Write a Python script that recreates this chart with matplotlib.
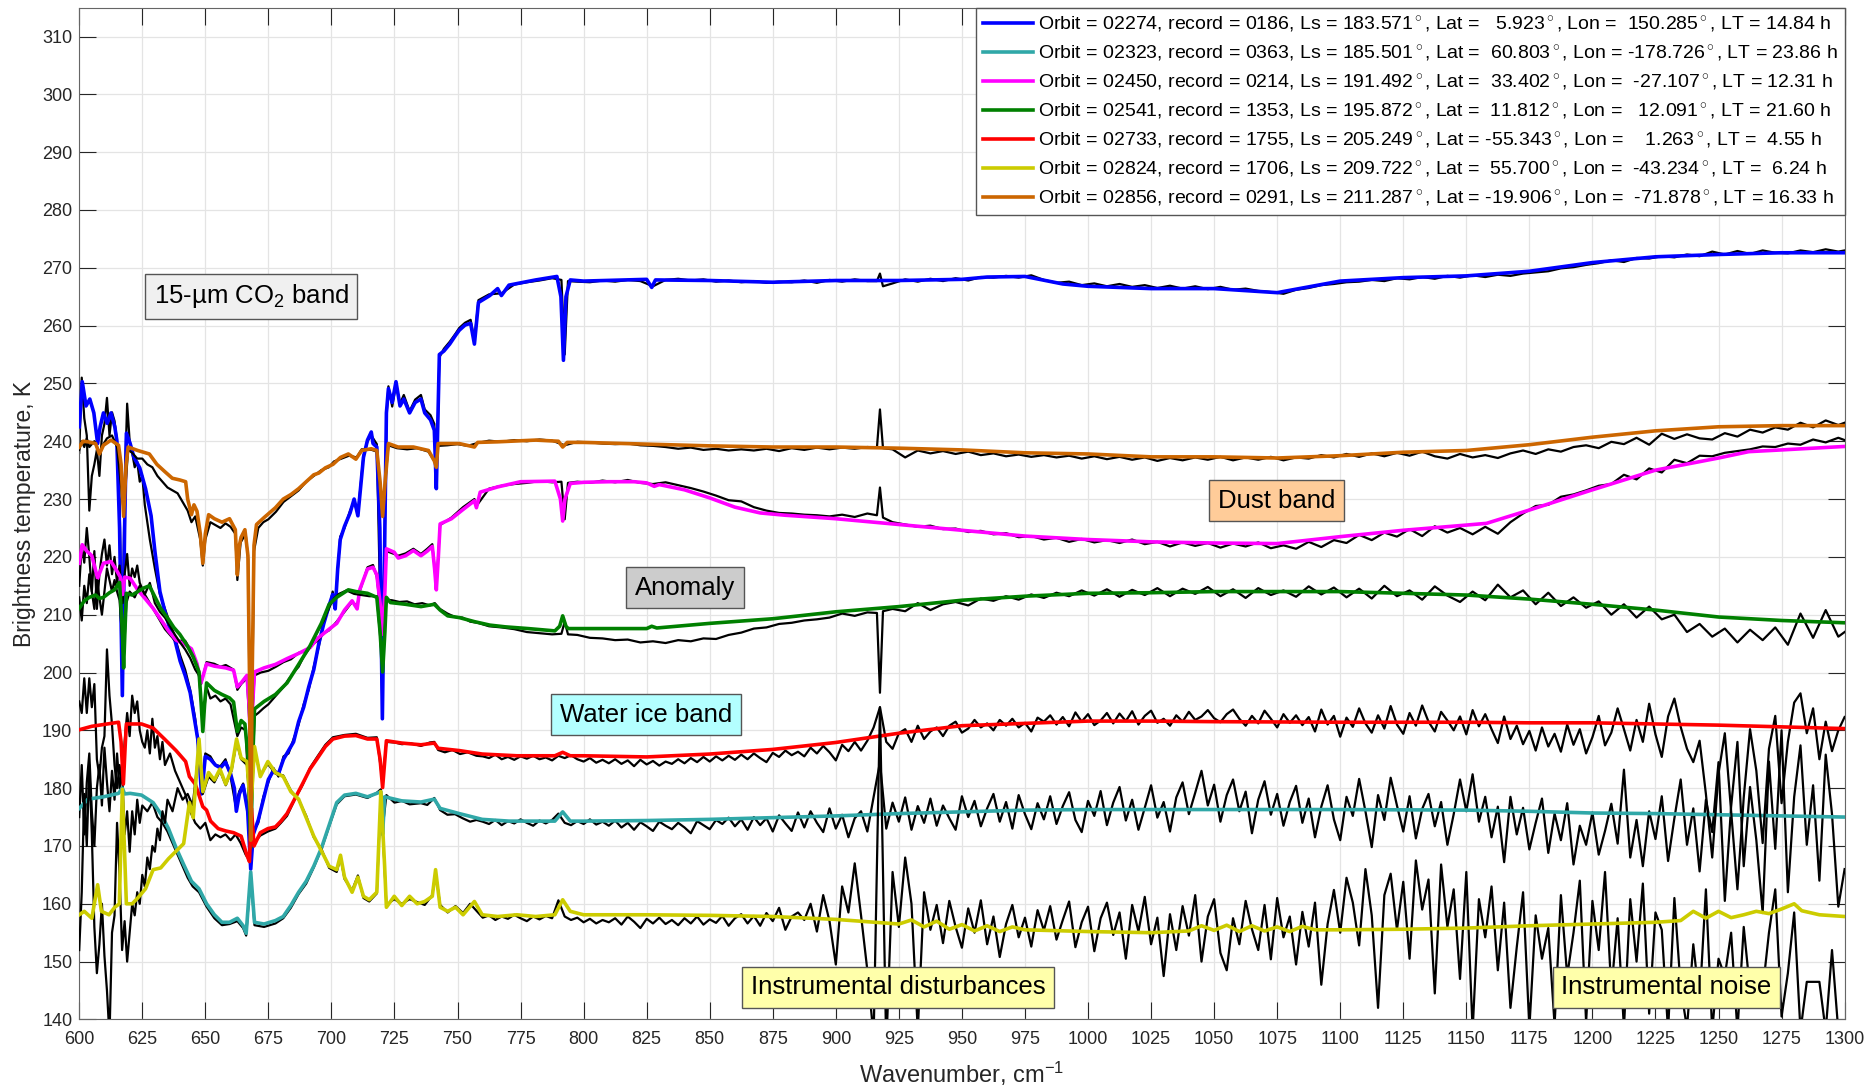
import numpy as np
import matplotlib
matplotlib.use("Agg")
import matplotlib.pyplot as plt

plt.rcParams['font.family'] = ['Liberation Sans', 'DejaVu Sans']
plt.rcParams['mathtext.fontset'] = 'custom'
plt.rcParams['mathtext.rm'] = 'Liberation Sans'
plt.rcParams['mathtext.it'] = 'Liberation Sans:italic'

# ---- observation metadata (legend) ----
orbits = ["02274", "02323", "02450", "02541", "02733", "02824", "02856"]
records = ["0186", "0363", "0214", "1353", "1755", "1706", "0291"]
ls_deg = [183.571, 185.501, 191.492, 195.872, 205.249, 209.722, 211.287]
lat_deg = [5.923, 60.803, 33.402, 11.812, -55.343, 55.700, -19.906]
lon_deg = [150.285, -178.726, -27.107, 12.091, 1.263, -43.234, -71.878]
local_time = [14.84, 23.86, 12.31, 21.60, 4.55, 6.24, 16.33]
colors = ["#0000ff", "#30a8a8", "#ff00ff", "#008000", "#ff0000", "#cccc00", "#cc6600"]

# regular wavenumber grids for the measured spectra beyond 760 cm-1
wn_fine = np.arange(760, 1300.1, 2.5)
wn_coarse = np.append(np.arange(762.5, 1300, 5), 1300)

# ---- 02274 ----
fit_02274 = [
    (600, 242.5), (601.2, 250.3), (602.7, 246.1), (604.2, 247.3), (605.8, 244.9), (607.3, 239.6),
    (608.3, 242.5), (609.6, 244.9), (611.1, 243.1), (612.6, 244.9), (614.1, 242.5), (614.9, 240.2),
    (616, 225), (617.1, 196), (618, 225), (618.7, 241.4), (620.2, 239.6), (621.7, 237.2), (624, 235.4),
    (626.3, 231.8), (628.5, 227.1), (630, 221), (632, 214), (634, 210.5), (636, 207.5), (638, 205.5),
    (640, 202), (642, 199.5), (644, 196.5), (645.5, 192.5), (647, 188.5), (648.5, 179), (650, 185.5),
    (652, 185), (654, 184), (656, 183.5), (658, 184.5), (660, 182.5), (661.5, 180), (662.3, 176),
    (663.5, 179), (665, 180.5), (666.8, 176), (668, 166), (669, 172), (671, 174.5), (673, 178),
    (675, 181.5), (677, 183), (679, 182.5), (681, 185), (683, 186.5), (685, 188), (687, 191.5),
    (689, 194), (691, 197.5), (693, 200.5), (695, 205), (697, 208.5), (699, 211.5), (700.5, 213.5),
    (701.5, 211), (702.5, 218), (703.5, 223), (705.2, 225.3), (707.4, 227.6), (709, 230), (710.5, 227.1),
    (712.7, 237.2), (714.3, 240.2), (715.8, 241.6), (716.5, 239.6), (718, 239), (719.2, 225), (720.2, 192),
    (721.2, 225), (721.8, 244.9), (722.6, 249.1), (724.1, 246.7), (725.6, 250.3), (727.2, 246.1),
    (728.7, 247.3), (731, 244.9), (733.2, 246.7), (735.5, 247.3), (737, 244.9), (739.3, 243.7),
    (740.8, 241.9), (741.6, 231.8), (742.8, 255), (744.6, 255.6), (746.9, 256.8), (749.2, 258.3),
    (750.7, 259.2), (753, 260.1), (755.2, 260.4), (756.7, 256.8), (758.3, 264), (762.8, 265.2),
    (765.9, 266.4), (767.4, 265.2), (770.4, 267), (781, 267.9), (789.4, 268.5), (791, 265), (792, 254),
    (793, 265), (794.7, 267.9), (800, 267.7), (825, 268), (827, 266.6), (828.5, 267.9), (850, 267.8),
    (875, 267.5), (900, 267.8), (925, 267.8), (950, 268), (960, 268.4), (975, 268.5), (990, 267.2),
    (1000, 266.8), (1025, 266.4), (1050, 266.4), (1075, 265.7), (1100, 267.7), (1125, 268.3),
    (1150, 268.6), (1175, 269.4), (1200, 270.9), (1225, 271.9), (1250, 272.3), (1275, 272.6), (1300, 272.6),
]
obs_lo_02274 = [
    (600, 238), (601, 251), (602, 244), (603, 241), (604, 228), (605, 234), (606, 236), (607, 238.5),
    (608, 234), (609, 241), (610, 243), (611, 247.5), (612, 241), (613, 245), (614, 243.5), (615, 240),
    (616, 230), (617, 200), (618, 232), (619, 246.5), (620, 240), (621, 238), (622, 235.5), (623, 236.5),
    (624, 233), (625, 234), (626, 229), (627, 226), (628, 223), (630, 218), (632, 213.5), (634, 211),
    (636, 208.5), (638, 206), (640, 203), (642, 200.5), (644, 197), (646, 192), (647.5, 186), (648.5, 180),
    (650, 186), (652, 185.5), (654, 184), (656, 183.8), (658, 185), (660, 182), (662, 177), (663.5, 179.5),
    (665, 180.8), (666.8, 176.5), (668, 167), (669, 172.5), (671, 174), (673, 178.5), (675, 181),
    (677, 183.5), (679, 182), (681, 185.5), (683, 186), (685, 188.5), (687, 191), (689, 194.5), (691, 197),
    (693, 201), (695, 204.5), (697, 209), (699, 211), (700.5, 214), (701.5, 211.5), (703.5, 223.5),
    (705.2, 225), (707.4, 228), (709, 229.5), (710.5, 227.5), (712.7, 237.5), (714.3, 240), (715.8, 241),
    (718, 239.5), (720.2, 194), (721.8, 244), (722.6, 249.5), (724.1, 246), (725.6, 249.8), (727.2, 246.5),
    (728.7, 248), (731, 245.2), (733.2, 247.2), (735.5, 248), (737, 245.5), (739.3, 244.5), (740.8, 243),
    (741.6, 232), (742.8, 254.5), (744.6, 256), (746.9, 257.2), (749.2, 258.6), (750.7, 259.6), (753, 260.5),
    (755.2, 261), (756.7, 257.5), (758.3, 264.4),
]
obs_hi_02274 = [
    265.4, 265.6, 267.1, 267.5, 267.8, 268.2, 255.0, 267.6, 267.5, 267.8,
    267.6, 267.9, 267.7, 266.8, 267.9, 268.1, 267.8, 268.0, 267.6, 267.8,
    267.5, 267.7, 267.4, 267.6, 267.5, 267.8, 267.4, 267.9, 267.6, 268.0,
    267.7, 269.0, 267.3, 268.0, 267.6, 268.1, 267.7, 268.2, 267.8, 268.4,
    268.3, 268.6, 268.3, 268.7, 267.9, 267.4, 267.6, 267.0, 267.3, 266.8,
    267.2, 266.7, 267.0, 266.5, 266.9, 266.4, 266.8, 266.3, 266.7, 266.2,
    266.4, 266.0, 265.8, 265.5, 266.2, 266.5, 267.0, 267.2, 267.5, 267.6,
    267.9, 267.7, 268.2, 268.0, 268.4, 268.1, 268.6, 268.3, 268.7, 268.4,
    268.8, 268.6, 269.0, 269.2, 269.4, 269.9, 270.1, 270.5, 270.8, 271.3,
    271.0, 271.7, 271.6, 272.0, 271.8, 272.3, 272.0, 272.8, 272.3, 272.9,
    272.4, 273.0, 272.6, 272.5, 273.0, 272.7, 273.2, 272.8, 273.0,
]
obs_extra_02274 = [(791.2, 267.9), (793.8, 267.7), (916.3, 267.7), (918.7, 266.8)]

# ---- 02323 ----
fit_02323 = [
    (600, 176.5), (603.5, 178.1), (609.6, 178.5), (615.6, 179.1), (617.1, 180), (618, 179), (620.2, 179.1),
    (624.7, 178.8), (629.3, 177.5), (632.3, 175.6), (635.4, 173), (638.4, 169.7), (641.4, 166.8),
    (644.5, 163.9), (647.5, 162.6), (650.5, 160), (653.6, 158.1), (656.6, 156.8), (659.6, 156.8),
    (662.7, 157.5), (665, 156.2), (666.2, 154.9), (668, 165.5), (669.5, 156.8), (673.3, 156.5),
    (677.8, 157.1), (680.9, 157.8), (683.9, 159.7), (687, 162), (690, 163.9), (693, 166.5), (696.1, 169.7),
    (699.1, 173.6), (702.1, 177.5), (705.2, 178.8), (709.7, 179.1), (714.3, 178.5), (718, 179.1),
    (719.6, 179.4), (720.3, 172), (721.1, 178.5), (727.9, 177.8), (735.5, 177.6), (740.8, 178.1),
    (743.1, 176.5), (750.7, 175.6), (759.8, 174.6), (770.4, 174.3), (788.6, 174.3), (791.7, 175.9),
    (794.7, 174.3), (800, 174.3), (825, 174.4), (850, 174.6), (875, 174.9), (900, 175.2), (925, 175.6),
    (950, 175.9), (975, 176.2), (1000, 176.3), (1050, 176.3), (1100, 176.3), (1150, 176.2), (1175, 176),
    (1200, 175.7), (1225, 175.6), (1250, 175.4), (1275, 175.2), (1300, 175),
]
obs_lo_02323 = [
    (600, 175), (601, 184), (602, 172), (603, 181), (604, 186), (605, 176), (606, 170), (607, 180),
    (608, 184), (609, 177), (610, 187), (611, 181), (612, 176), (613, 183), (614, 178), (615, 186),
    (616, 180), (617, 183), (618, 172), (619, 176), (620, 169), (621, 176), (622, 172), (623, 178),
    (624, 174), (625, 177), (627, 176), (629, 177.5), (631, 175), (633, 174), (635, 172.5), (637, 170.5),
    (639, 168.5), (641, 166.5), (643, 164.5), (645, 163), (647.5, 162), (650.5, 159.5), (653.6, 157.5),
    (656.6, 156.3), (659.6, 156.5), (662.7, 157), (665, 155.8), (666.2, 154.5), (668, 165), (669.5, 156.3),
    (673.3, 156), (677.8, 156.6), (680.9, 157.5), (683.9, 159.3), (687, 161.7), (690, 163.5), (693, 166.3),
    (696.1, 169.5), (699.1, 173.4), (702.1, 177.2), (705.2, 178.6), (709.7, 178.9), (714.3, 178.3),
    (718, 179.2), (719.6, 179.8), (720.3, 173), (721.8, 178.8), (725, 177.5), (728, 177.8), (731, 177.2),
    (735.5, 177.4), (738, 177.1), (740.8, 178.3), (743.1, 176.2), (746, 175.4), (749, 175.5), (752, 174.8),
    (755, 174.2), (757.5, 174.5),
]
obs_hi_02323 = [
    174.2, 173.8, 174.5, 173.6, 174.3, 173.9, 174.6, 174.0, 173.5, 174.4,
    173.9, 174.5, 175.6, 174.0, 173.6, 174.3, 173.8, 174.6, 173.7, 174.2,
    173.5, 174.4, 173.2, 174.0, 172.8, 174.1, 173.4, 172.6, 174.2, 173.5,
    172.9, 174.0, 173.2, 172.2, 174.3, 173.6, 172.9, 174.5, 173.8, 174.9,
    173.4, 174.6, 172.8, 175.0, 173.6, 174.8, 172.5, 175.3, 173.9, 172.6,
    175.8, 173.2, 176.0, 174.0, 172.4, 176.5, 173.0, 175.4, 171.5, 174.8,
    176.0, 172.5, 178.5, 184.5, 173.0, 177.5, 174.2, 178.4, 172.8, 176.9,
    174.0, 178.2, 173.5, 177.0, 174.8, 172.8, 178.6, 175.0, 177.8, 173.4,
    176.5, 179.0, 174.2, 177.6, 173.0, 178.8, 175.5, 172.9, 177.4, 174.6,
    178.6, 173.8, 176.9, 179.3, 174.5, 172.4, 177.8, 175.2, 179.5, 173.6,
    177.5, 180.2, 174.4, 178.0, 172.8, 176.6, 180.5, 174.9, 177.6, 172.5,
    178.4, 181.0, 175.5, 179.2, 183.0, 177.0, 180.6, 174.2, 178.8, 181.5,
    176.0, 179.4, 172.2, 178.0, 181.2, 175.4, 179.0, 173.5, 177.6, 180.4,
    174.0, 178.2, 171.5, 176.8, 180.5, 174.6, 171.0, 178.5, 175.2, 181.6,
    176.0, 169.8, 178.8, 174.5, 181.8, 177.0, 172.5, 178.6, 171.3, 176.4,
    179.0, 173.4, 177.6, 170.2, 175.5, 181.5, 176.0, 182.4, 174.2, 178.5,
    171.5, 176.8, 167.2, 178.5, 172.0, 176.6, 169.4, 174.0, 178.2, 168.8,
    175.6, 171.0, 177.4, 166.8, 173.5, 170.2, 175.8, 168.5, 172.6, 177.3,
    170.4, 183.2, 168.0, 174.5, 166.5, 176.0, 171.2, 178.6, 167.4, 174.8,
    181.5, 170.2, 176.5, 165.6, 178.0, 172.4, 184.5, 160.5, 176.8, 188.0,
    166.5, 180.2, 171.0, 158.4, 184.6, 169.5, 190.0, 162.0, 178.5, 187.4,
    170.2, 180.5, 164.0, 185.8, 175.5, 159.5, 166.0,
]

# ---- 02450 ----
fit_02450 = [
    (600, 218.9), (601.2, 222.1), (603, 221), (605, 220.2), (607.3, 216.3), (609.6, 218.9), (612.6, 219.2),
    (614.9, 217.6), (616.3, 216.5), (617.2, 213.5), (618, 216.5), (620.2, 216.3), (623.2, 214.3),
    (626.3, 212.7), (629.3, 211.1), (632.3, 209.2), (635.4, 207.2), (638.4, 205.6), (641.4, 205),
    (644.5, 204.1), (646.7, 201.5), (648.3, 198.2), (650.5, 201.5), (653.6, 201.1), (658.1, 200.8),
    (661.2, 200.4), (662.7, 197.5), (664.2, 198.2), (666.5, 199.5), (667.4, 194), (668, 186), (668.7, 194),
    (669.5, 200.1), (673.3, 200.8), (677.8, 201.4), (682.4, 202.4), (687, 203.3), (691.5, 204.3),
    (694.5, 205.9), (699.1, 207.5), (702.1, 208.5), (705.2, 210.8), (708.2, 212.4), (710.2, 211),
    (711.2, 214.3), (714.3, 217.9), (716.5, 218.2), (718, 216.9), (719.3, 212), (720.3, 206.6), (721.2, 214),
    (721.8, 221.4), (724.9, 220.8), (726.5, 219.8), (729.4, 220.2), (732.5, 221.1), (735.5, 220.2),
    (738, 221), (740, 221.8), (740.9, 218), (741.6, 214.3), (742.4, 220), (743.1, 225.7), (747.6, 226.6),
    (752.2, 228.2), (756.7, 229.7), (757.5, 228.5), (759, 231.2), (765.9, 232.1), (775, 233), (788.6, 233.1),
    (790.8, 230), (791.7, 226.2), (792.6, 230), (794.7, 232.7), (800, 232.9), (810, 233), (820, 233),
    (825, 232.8), (828, 232.2), (830, 232.5), (840, 231.6), (850, 230.2), (860, 228.6), (870, 227.6),
    (880, 227.2), (900, 226.6), (925, 225.6), (950, 224.6), (975, 223.6), (1000, 223), (1025, 222.6),
    (1050, 222.4), (1075, 222.3), (1100, 223.5), (1125, 224.6), (1150, 225.5), (1158, 225.8), (1175, 228.1),
    (1200, 231.6), (1225, 235), (1250, 237.1), (1262, 238.2), (1275, 238.5), (1300, 239.1),
]
obs_lo_02450 = [
    (600, 215), (601, 222), (602, 219), (603, 225), (604, 220), (605, 214), (606, 221), (607, 211),
    (608, 217), (609, 220.5), (610, 223), (611, 218.5), (612, 222), (613, 217), (614, 220), (615, 215.5),
    (616, 218.5), (617.2, 212), (618, 217), (619, 220.5), (620, 215), (621, 218), (622, 216.5), (623, 218.5),
    (624, 215.5), (626, 213.5), (628, 212), (630, 210.5), (632, 209), (634, 207.5), (636, 206.5),
    (638, 205.5), (640, 205.5), (642, 205.5), (644, 204), (646.7, 201.5), (648.3, 198), (650.5, 201.8),
    (653.6, 201.5), (656, 201), (658.1, 201.3), (661.2, 200.5), (662.7, 197), (664.2, 198), (666.5, 199),
    (668, 187), (669.5, 199.5), (672, 200), (675, 200.3), (678, 201), (681, 201.8), (684, 202.3),
    (687, 203.4), (690, 203.7), (692, 204.7), (694.5, 205.5), (697, 206.8), (699.1, 207.3), (702.1, 208.8),
    (705.2, 210.5), (708.2, 212.2), (710.2, 211.5), (711.2, 214), (714.3, 218.2), (716.5, 218.6),
    (718, 216.5), (720.3, 207), (721.8, 221), (724.9, 220.5), (726.5, 220.2), (729.4, 220.6), (732.5, 221.4),
    (735.5, 220.5), (738, 221.4), (740, 222.2), (741.6, 215), (743.1, 225.5), (747.6, 226.8), (752.2, 228.6),
    (756.7, 230), (757.5, 228.8),
]
obs_hi_02450 = [
    231.8, 232.3, 232.6, 232.8, 233.1, 232.9, 226.5, 233.0, 232.8, 233.2,
    232.9, 233.3, 232.8, 232.6, 232.9, 232.4, 231.9, 231.3, 230.6, 229.8,
    229.6, 228.6, 228.0, 227.6, 227.5, 227.3, 227.2, 227.0, 227.3, 226.9,
    227.5, 232.0, 226.0, 225.6, 225.2, 225.4, 224.8, 224.9, 224.3, 224.5,
    223.9, 224.1, 223.4, 223.6, 223.0, 223.3, 222.6, 223.1, 222.5, 222.9,
    222.4, 223.0, 222.2, 222.6, 221.8, 222.5, 221.9, 222.4, 221.6, 222.3,
    221.8, 222.5, 221.5, 222.0, 221.4, 222.6, 221.7, 222.9, 222.4, 223.8,
    222.9, 224.2, 223.5, 224.8, 223.6, 225.3, 224.2, 225.0, 223.9, 225.2,
    224.0, 226.0, 227.5, 228.8, 229.0, 230.4, 230.8, 231.5, 232.3, 232.6,
    234.2, 233.4, 235.3, 234.6, 236.8, 236.2, 237.5, 237.4, 238.0, 238.3,
    238.6, 239.1, 239.0, 239.6, 239.4, 240.3, 239.8, 240.6, 240.2,
]
obs_extra_02450 = [(791.2, 233.0), (793.8, 232.8), (916.3, 227.2), (918.7, 226.8)]

# ---- 02541 ----
fit_02541 = [
    (600, 211.1), (602, 212.4), (604, 213), (606.5, 213.4), (608, 212.8), (609.6, 213), (612, 213.8),
    (614, 214.3), (616, 215.6), (617, 208), (617.6, 200.8), (618.2, 208), (618.7, 213.7), (621, 213.4),
    (623.2, 214), (625.5, 214.6), (627.8, 215), (629.3, 213.7), (632.3, 211.1), (635.4, 209.2),
    (637.5, 207.8), (639.9, 206.6), (642.9, 204.6), (645.2, 202.7), (647.5, 200.1), (648.3, 195),
    (649, 189.8), (649.8, 195), (650.5, 198.2), (653.6, 196.9), (656.6, 196.2), (659.6, 195.6),
    (661.2, 194.9), (662.7, 189.8), (664.2, 191.7), (665.7, 191.1), (667, 185), (668, 169.7), (668.8, 185),
    (669.5, 193.7), (673.3, 195), (677.8, 196.2), (682.4, 198.2), (687, 201.4), (691.5, 204.6), (696, 208.5),
    (699.1, 211.8), (702.1, 213), (706.7, 214.3), (709.7, 214), (714.3, 213.7), (718, 213), (719.3, 207),
    (720.3, 200.1), (721.2, 207), (721.8, 213), (723.4, 212.1), (729.4, 211.8), (735.5, 211.4),
    (740.8, 211.8), (743.1, 210.8), (746.1, 209.8), (750.7, 209.5), (756.7, 208.8), (762.8, 208.2),
    (768.9, 207.9), (778, 207.6), (788.6, 207.2), (790.5, 208), (791.7, 209.8), (793, 208), (793.9, 207.6),
    (800, 207.6), (825, 207.6), (827, 208), (829, 207.7), (850, 208.5), (875, 209.3), (900, 210.5),
    (925, 211.4), (950, 212.5), (975, 213.2), (1000, 213.7), (1025, 213.8), (1050, 214), (1075, 214),
    (1100, 214), (1125, 213.7), (1150, 213.4), (1175, 212.7), (1200, 211.8), (1225, 210.8), (1250, 209.6),
    (1275, 209), (1300, 208.6),
]
obs_lo_02541 = [
    (600, 213), (601, 209), (602, 215), (603, 212), (604, 217), (605, 214), (606, 211), (607, 216),
    (608, 213), (609, 210), (610, 214), (611, 218), (612, 216), (613, 214), (614, 216), (615, 214),
    (616, 212.5), (617.6, 202), (618.7, 212), (620, 214), (622, 213), (624, 215), (626, 213.5), (628, 215.5),
    (630, 212), (632, 210.5), (634, 209.5), (636, 208), (638, 206.5), (640, 205.2), (642, 204), (644, 202.5),
    (646, 200.5), (647.5, 199.5), (649, 191), (650.5, 197.5), (652, 195.5), (654, 196), (656, 195),
    (658, 195.5), (660, 194.5), (662.7, 189), (664.2, 190.5), (666, 190), (668, 171), (669.5, 192.5),
    (671, 193), (673, 193.8), (675, 194.5), (677, 195.5), (679, 196.5), (681, 197.5), (683, 198.8),
    (685, 200), (687, 201), (689, 202.8), (691, 204), (693, 205.8), (695, 207.5), (697, 209), (699, 211.2),
    (701, 212.8), (703, 213.6), (706, 214.2), (709, 213.6), (712, 213.4), (715, 213.2), (718, 213.2),
    (720.3, 201), (721.8, 212.6), (724, 212.5), (727, 212.2), (730, 212.3), (733, 211.8), (736, 212),
    (739, 211.6), (741, 212), (743, 211), (746, 210.2), (749, 209.6), (752, 209.5), (755, 208.8), (758, 208.6),
]
obs_hi_02541 = [
    208.0, 207.8, 207.5, 207.0, 206.8, 206.6, 208.8, 206.5, 206.0, 205.9,
    205.6, 205.7, 205.2, 205.4, 205.1, 205.6, 205.4, 205.9, 205.8, 206.5,
    206.9, 207.6, 207.8, 208.4, 208.6, 209.0, 209.2, 209.5, 210.2, 209.8,
    210.4, 196.5, 211.0, 210.6, 212.0, 210.8, 211.8, 212.2, 211.6, 212.8,
    212.4, 213.2, 212.6, 213.5, 212.9, 213.8, 213.2, 214.2, 213.3, 214.4,
    213.1, 214.3, 213.4, 214.6, 213.2, 214.5, 213.6, 214.8, 213.2, 214.4,
    212.9, 214.6, 213.4, 214.2, 213.1, 214.9, 213.5, 214.7, 213.0, 214.5,
    212.8, 215.0, 213.2, 214.2, 212.6, 214.9, 213.3, 212.2, 214.0, 212.5,
    215.2, 213.0, 214.2, 211.8, 213.8, 211.5, 213.0, 211.2, 212.3, 210.0,
    211.8, 209.5, 211.4, 209.2, 210.0, 207.0, 208.4, 206.2, 207.6, 205.2,
    207.4, 205.6, 207.8, 204.8, 210.2, 206.0, 210.8, 206.2, 207.0,
]
obs_extra_02541 = [(791.2, 206.7), (793.8, 206.6), (916.3, 210.3), (918.7, 210.6)]

# ---- 02733 ----
fit_02733 = [
    (600, 190.1), (605, 190.7), (611.1, 191.1), (615.6, 191.4), (616.6, 188), (617.5, 180.7), (618.3, 188),
    (618.7, 191.1), (624.7, 191.1), (629.3, 190.4), (633.8, 188.5), (638.4, 186.5), (642.2, 184.6),
    (643.7, 182), (646, 180.7), (647.5, 178.8), (649, 176.8), (650.5, 176.2), (652.1, 174.3), (655.1, 173),
    (658.1, 172.6), (661.2, 172.3), (664.2, 171.7), (666.5, 168.4), (667.5, 167.3), (668.3, 176.5),
    (669.3, 170), (671.8, 172.3), (674.8, 173), (677.8, 173.3), (680, 174.3), (682.4, 175.6), (685.4, 178.1),
    (688.5, 180.7), (691.5, 183.3), (694.5, 185.2), (697.6, 187.2), (700.6, 188.5), (705.2, 189),
    (709.7, 189.1), (714.3, 188.5), (718, 188.5), (719.3, 185), (720.3, 180.1), (721.2, 185), (721.8, 188.2),
    (727.9, 187.8), (735.5, 187.5), (740.8, 187.8), (742.3, 186.9), (750.7, 186.5), (759.8, 185.9),
    (773.5, 185.6), (788.6, 185.6), (791.7, 186.2), (794.7, 185.6), (800, 185.6), (825, 185.4), (850, 185.9),
    (875, 186.7), (900, 187.9), (925, 189.5), (950, 190.8), (975, 191.2), (1000, 191.6), (1025, 191.6),
    (1050, 191.5), (1100, 191.4), (1150, 191.4), (1175, 191.3), (1200, 191.3), (1225, 191.1), (1250, 190.9),
    (1275, 190.6), (1300, 190.3),
]
obs_lo_02733 = [
    (600, 195), (601, 193), (602, 199), (603, 193), (604, 199), (605, 194), (606, 198), (607, 185),
    (608, 182), (609, 187), (610, 189), (611, 204), (612, 196), (613, 191), (614, 184), (615, 180),
    (616, 184), (617, 181), (618, 188), (619, 193), (620, 189), (621, 196), (622, 193), (623, 195),
    (624, 190), (625, 188), (626, 187), (627, 190), (628, 186), (629, 192), (630, 187), (631, 189),
    (632, 185), (633, 188), (634, 184), (636, 186), (638, 183), (640, 181), (642, 179), (644, 176),
    (646, 174), (648, 173), (650, 174), (652, 171), (654, 172), (656, 171.5), (658, 172), (660, 171),
    (662, 172), (664, 170.5), (666, 168.5), (667.5, 167.5), (668.3, 176), (669.3, 170.5), (671.8, 171.8),
    (674.8, 172.5), (677.8, 173), (680, 174), (682.4, 175.2), (685.4, 178), (688.5, 180.5), (691.5, 183.5),
    (694.5, 185.5), (697.6, 187.5), (700.6, 188.8), (705.2, 189.2), (709.7, 189.4), (714.3, 188.7),
    (718, 188.8), (720.3, 181), (721.8, 188), (725, 187.9), (728, 187.6), (731, 187.8), (735.5, 187.3),
    (739, 187.9), (740.8, 188), (742.3, 186.6), (745, 186.2), (748, 186.6), (751, 185.9), (754, 186.2),
    (757.5, 185.6),
]
obs_hi_02733 = [
    185.5, 185.2, 185.8, 185.0, 185.4, 184.9, 185.5, 185.1, 185.6, 185.0,
    185.3, 184.8, 185.6, 185.2, 185.7, 185.0, 184.6, 185.2, 184.4, 184.9,
    184.3, 185.0, 184.2, 184.8, 183.8, 184.9, 184.1, 184.7, 183.9, 184.6,
    184.2, 185.0, 184.3, 185.2, 184.5, 185.4, 184.6, 185.5, 184.8, 185.6,
    184.9, 185.8, 185.0, 186.0, 185.2, 184.5, 186.1, 185.4, 186.5, 185.7,
    186.3, 185.5, 187.0, 186.0, 187.3, 186.2, 184.8, 187.5, 186.4, 188.0,
    186.5, 188.2, 190.5, 194.0, 188.0, 186.8, 189.5, 190.2, 188.0, 190.8,
    188.5, 189.8, 190.5, 189.0, 190.8, 191.5, 189.6, 190.3, 191.8, 190.5,
    191.2, 190.0, 191.8, 190.8, 192.0, 190.5, 191.3, 189.8, 192.2, 191.5,
    192.6, 191.0, 192.3, 190.7, 193.1, 191.5, 192.8, 190.9, 191.7, 193.0,
    191.2, 192.9, 191.6, 193.3, 191.0, 192.5, 193.4, 191.3, 192.0, 190.8,
    192.6, 191.5, 193.2, 191.8, 192.4, 193.5, 192.1, 191.4, 192.8, 193.6,
    192.0, 190.8, 192.5, 191.2, 193.4, 192.0, 190.5, 192.8, 191.3, 192.6,
    190.9, 192.3, 189.8, 193.6, 191.0, 192.5, 188.9, 192.2, 190.6, 193.8,
    191.2, 189.6, 192.6, 190.3, 194.2, 191.0, 189.4, 193.0, 190.8, 194.3,
    191.5, 189.8, 193.2, 191.7, 190.0, 192.4, 189.3, 193.5, 190.7, 192.8,
    190.2, 187.8, 192.4, 188.5, 190.8, 187.6, 189.9, 186.5, 190.5, 187.2,
    189.4, 186.3, 191.0, 187.5, 190.2, 186.0, 188.8, 192.5, 187.4, 189.6,
    193.8, 190.2, 186.5, 191.8, 188.0, 194.6, 189.3, 185.4, 192.4, 195.5,
    190.6, 186.8, 184.5, 188.2, 179.0, 168.0, 182.5, 189.5, 176.0, 162.5,
    178.4, 190.2, 183.0, 170.5, 186.8, 192.5, 177.4, 188.0, 194.8, 196.4,
    189.5, 193.8, 185.0, 191.5, 186.4, 190.0, 192.3,
]

# ---- 02824 ----
fit_02824 = [
    (600, 158.1), (602, 158.7), (605, 157.5), (607.3, 163.3), (608.8, 158.7), (611.8, 158.1), (614.1, 159.4),
    (615.9, 160), (617.1, 179.8), (618.7, 160), (621, 160), (623.2, 161), (626.3, 162.6), (629.3, 165.9),
    (632.3, 166.2), (635.4, 167.8), (638.4, 169.1), (641.4, 170.4), (643.7, 177.5), (645.2, 174.9),
    (647.5, 188.5), (649, 179.4), (651.3, 182.7), (653.6, 181.4), (655.8, 183.3), (658.1, 180.7),
    (660.4, 183.3), (662.4, 188.5), (664.2, 185.2), (666.5, 184.6), (668, 176), (669.5, 187.2), (671.8, 182),
    (674.8, 184.6), (677.8, 182.7), (680.9, 182), (683.9, 179.4), (687, 178.1), (690, 174.9), (693, 171.7),
    (696.1, 169.1), (699.1, 166.5), (702.1, 165.9), (703.6, 168.4), (705.2, 164.6), (708.2, 162),
    (710.5, 164.6), (712.7, 161.3), (715, 160.7), (718, 162), (719.6, 179.4), (721.1, 166.5), (721.8, 159.4),
    (724.9, 161.3), (727.9, 159.7), (731, 161.3), (734, 160), (737, 160.4), (740, 161.3), (741.3, 165.9),
    (743.1, 159.4), (746.1, 158.7), (749.2, 159.4), (752.2, 158.1), (756.7, 160.4), (759.8, 158.1),
    (765.9, 157.8), (773.5, 158.1), (781, 157.8), (788.6, 158.1), (791.7, 160.7), (794.7, 158.7), (800, 158.1),
    (825, 158.1), (850, 158), (875, 157.8), (900, 157.3), (925, 156.5), (930, 157.2), (935, 156),
    (940, 157), (945, 155.6), (950, 156.4), (955, 155.3), (960, 156.2), (965, 155.2), (970, 156),
    (975, 155.5), (1000, 155.2), (1025, 155), (1040, 155.3), (1045, 156.2), (1050, 155.4), (1055, 156.3),
    (1060, 155.2), (1065, 156.2), (1070, 155.3), (1075, 156), (1080, 155.2), (1085, 156.1), (1090, 155.5),
    (1100, 155.5), (1125, 155.6), (1150, 155.8), (1175, 156.2), (1200, 156.5), (1225, 156.8), (1235, 157.1),
    (1240, 158.7), (1245, 157.5), (1250, 158.7), (1255, 157.6), (1260, 158.1), (1265, 158.7), (1270, 158.3),
    (1275, 159.1), (1280, 160), (1283, 158.8), (1290, 158.1), (1300, 157.8),
]
obs_lo_02824 = [
    (600, 152), (601, 162), (602, 179), (603, 170), (604, 184), (605, 172), (606, 156), (607, 148),
    (608, 153), (609, 160), (610, 151), (611, 145), (612, 137), (613, 155), (614, 158), (615, 174),
    (616, 165), (617, 152), (618, 157), (619, 150), (620, 155), (621, 160), (622, 158), (623, 162),
    (624, 160), (625, 165), (626, 163), (627, 168), (628, 166), (629, 170), (630, 169), (631, 173),
    (632, 171), (633, 176), (634, 174), (635, 178), (637, 176), (639, 180), (641, 178), (643, 179),
    (645, 177), (647.5, 187), (649, 179), (651.3, 182), (653.6, 181), (655.8, 183), (658.1, 180.5),
    (660.4, 183), (662.4, 188), (664.2, 185), (666.5, 184), (668, 176.5), (669.5, 186.8), (671.8, 182.3),
    (674.8, 184.2), (677.8, 182.5), (680.9, 182.2), (683.9, 179.6), (687, 178), (690, 175.2), (693, 171.5),
    (696.1, 169.4), (699.1, 166.2), (702.1, 165.5), (703.6, 168), (705.2, 164.3), (708.2, 162.3),
    (710.5, 164.9), (712.7, 161), (715, 160.4), (718, 161.8), (719.6, 179), (721.1, 166), (721.8, 159.8),
    (724.9, 160.8), (727.9, 160), (731, 160.8), (734, 160.3), (737, 159.8), (740, 161.5), (741.3, 165.5),
    (743.1, 159.8), (746.1, 158.5), (749.2, 159.6), (752.2, 158.4), (755, 160), (757.5, 158.8),
]
obs_hi_02824 = [
    157.6, 158.0, 157.2, 157.8, 157.4, 158.1, 157.5, 157.0, 157.8, 157.3,
    157.9, 157.5, 160.6, 157.8, 157.2, 157.6, 156.8, 157.4, 156.6, 157.2,
    156.8, 157.5, 156.4, 157.8, 156.9, 155.8, 157.4, 156.6, 157.6, 156.5,
    157.2, 156.3, 157.5, 156.6, 157.8, 156.4, 157.3, 156.7, 157.9, 156.2,
    157.5, 158.2, 156.6, 157.9, 156.2, 158.4, 157.0, 159.3, 155.5, 157.8,
    158.5, 157.2, 160.0, 155.2, 161.5, 157.0, 149.5, 163.0, 158.5, 167.0,
    158.0, 148.5, 137.0, 194.0, 135.0, 165.5, 156.0, 168.0, 160.0, 138.0,
    162.0, 155.5, 159.8, 153.2, 160.5, 156.0, 152.4, 159.2, 155.0, 160.6,
    153.0, 157.8, 150.8, 156.5, 159.8, 154.2, 157.6, 152.6, 158.9, 155.4,
    159.6, 153.8, 157.2, 160.4, 152.5, 156.8, 159.5, 151.8, 157.5, 160.2,
    154.6, 158.5, 150.5, 159.8, 155.2, 161.2, 153.0, 157.6, 147.5, 158.2,
    152.0, 159.6, 154.5, 161.5, 150.0, 157.8, 160.8, 151.5, 148.5, 157.5,
    153.0, 160.5, 155.6, 152.0, 159.8, 150.4, 161.0, 154.2, 157.8, 149.5,
    158.6, 152.6, 160.2, 146.0, 156.5, 162.4, 155.0, 164.5, 160.2, 152.8,
    166.0, 158.0, 142.0, 161.5, 165.2, 155.5, 163.8, 150.5, 167.5, 159.0,
    164.2, 144.5, 166.8, 156.0, 162.5, 147.0, 165.5, 138.0, 160.8, 154.2,
    163.0, 148.5, 160.2, 142.0, 152.5, 162.0, 138.5, 158.0, 150.5, 155.8,
    139.0, 161.5, 147.5, 155.0, 164.0, 139.5, 160.5, 152.0, 165.5, 145.0,
    157.5, 138.5, 160.8, 150.0, 163.5, 141.0, 158.5, 155.5, 138.0, 161.0,
    145.5, 138.5, 153.0, 143.0, 162.5, 138.0, 150.5, 147.5, 155.0, 138.0,
    156.0, 145.0, 145.0, 145.0, 155.0, 162.5, 140.5, 148.0, 158.5, 138.0,
    146.5, 146.5, 146.5, 138.0, 152.0, 138.0, 138.0,
]

# ---- 02856 ----
fit_02856 = [
    (600, 239), (601.5, 240), (603.5, 239.9), (606.5, 239.6), (608, 237.8), (609.6, 239.3), (612.6, 240.2),
    (615.6, 239.3), (616.6, 236), (617.6, 227), (618.6, 236), (619.4, 239), (623.2, 238.4), (627.8, 237.8),
    (630.8, 236), (633.8, 234.8), (636.9, 233.6), (639.9, 233.3), (642.2, 233), (643, 230), (644.5, 227.3),
    (645.5, 229), (646.7, 227.9), (648, 224), (649, 218.9), (650, 224), (651.3, 227.3), (653.6, 226.6),
    (656.6, 226), (659.6, 226.6), (661.9, 224.7), (662.7, 216.9), (663.5, 222), (664.2, 223.4),
    (665.7, 224.7), (666.9, 220.2), (667.5, 200), (668, 171), (668.6, 200), (669.3, 222), (670.3, 225.6),
    (673.3, 226.8), (677.8, 228.5), (680.9, 230), (684, 230.8), (687, 231.8), (690, 233), (693, 234.2),
    (695, 234.5), (697.6, 235.4), (700.6, 236), (703.6, 237.2), (706.7, 237.8), (709.7, 236.9), (712, 238.4),
    (715.8, 238.7), (718, 238.4), (719.3, 233), (720.3, 227), (721.3, 233), (722.6, 239.6), (726.4, 239),
    (732.5, 239), (738.5, 238.4), (740.8, 236.6), (741.6, 235.5), (742.3, 239.6), (750.7, 239.6),
    (756.7, 239), (758, 239.8), (765.9, 239.9), (781, 240.2), (790, 240), (791.7, 239), (793.5, 239.8),
    (800, 239.8), (825, 239.5), (850, 239.2), (875, 239), (900, 239), (925, 238.8), (950, 238.5), (975, 238),
    (1000, 237.8), (1025, 237.3), (1050, 237.3), (1075, 237.1), (1100, 237.5), (1125, 238.1), (1150, 238.4),
    (1175, 239.4), (1200, 240.7), (1225, 241.8), (1250, 242.5), (1275, 242.7), (1300, 242.7),
]
obs_lo_02856 = [
    (600, 238.5), (601, 240), (602, 239), (603, 240.5), (604, 239), (606, 240), (608, 238), (609.6, 239.5),
    (611, 240.5), (613, 241), (615, 239), (617.6, 228), (619.4, 238.5), (621, 238), (623, 237), (625, 237),
    (627, 236), (629, 235.5), (631, 234), (633, 233), (635, 232), (637, 231.5), (639, 231), (641, 229.5),
    (643, 228), (644.5, 226), (646, 227), (648, 223), (649, 218.5), (650, 223), (652, 226), (654, 225.5),
    (656, 225), (658, 225.8), (660, 225.2), (661.9, 224), (662.7, 216), (664, 222.5), (666, 224),
    (667, 219.5), (668, 172), (669.3, 221), (671, 225), (673, 226), (675, 226.5), (678, 227.8), (681, 229.5),
    (684, 230.5), (687, 231.5), (690, 233), (693, 234), (696, 235), (699, 235.5), (701, 236.5), (704, 237),
    (707, 237.5), (710, 237.2), (712, 238.6), (716, 238.5), (718, 238.2), (720.3, 227.5), (722.6, 239.3),
    (726, 238.8), (730, 238.6), (734, 238.8), (738.5, 238.2), (741.6, 236), (742.3, 239.2), (746, 239.3),
    (750, 239.5), (754, 239.2), (758, 239.7),
]
obs_hi_02856 = [
    240.1, 239.9, 240.2, 240.0, 240.3, 240.1, 239.3, 239.9, 239.8, 239.6,
    239.5, 239.6, 239.3, 239.2, 239.0, 238.7, 238.9, 238.5, 238.7, 238.4,
    238.6, 238.4, 238.7, 238.3, 238.8, 238.5, 238.9, 238.6, 238.9, 238.7,
    239.0, 245.5, 238.6, 237.2, 238.4, 237.9, 238.3, 237.8, 238.2, 237.6,
    237.9, 237.4, 237.7, 237.3, 237.6, 237.2, 237.5, 237.0, 237.4, 236.9,
    237.3, 236.8, 237.2, 236.6, 237.1, 236.7, 237.2, 236.8, 237.3, 236.7,
    237.2, 236.8, 237.3, 236.7, 237.2, 237.0, 237.6, 237.2, 237.8, 237.3,
    237.9, 237.4, 238.0, 237.5, 238.2, 237.4, 237.0, 237.8, 237.2, 237.6,
    237.1, 237.9, 238.4, 237.8, 238.6, 238.2, 239.0, 239.3, 238.8, 239.9,
    239.5, 240.6, 239.4, 241.3, 240.4, 241.2, 240.5, 240.3, 241.4, 240.8,
    242.0, 241.5, 242.4, 242.0, 243.2, 242.4, 243.6, 242.8, 243.2,
]
obs_extra_02856 = [(916.3, 238.9), (918.7, 238.8)]

# text boxes: (label, wavenumber, temperature, face colour)
notes = [
    ("15-µm CO$_2$ band", 668.3, 265.1, "#f0f0f0"),
    ("Anomaly", 840.2, 214.7, "#cccccc"),
    ("Water ice band", 824.7, 192.7, "#b3ffff"),
    ("Dust band", 1074.8, 229.7, "#ffcc99"),
    ("Instrumental disturbances", 924.6, 145.6, "#ffffaa"),
    ("Instrumental noise", 1229.3, 145.6, "#ffffaa"),
]


def pairs(seq):
    a = np.array(seq, dtype=float)
    return a[:, 0], a[:, 1]


def measured(lo, grid, hi, extra=()):
    x0, y0 = pairs(lo)
    parts_x = [x0, grid]
    parts_y = [y0, np.asarray(hi, dtype=float)]
    if extra:
        x1, y1 = pairs(extra)
        parts_x.append(x1)
        parts_y.append(y1)
    x = np.concatenate(parts_x)
    y = np.concatenate(parts_y)
    order = np.argsort(x, kind="stable")
    return x[order], y[order]


spectra = [
    (fit_02274, measured(obs_lo_02274, wn_coarse, obs_hi_02274, obs_extra_02274)),
    (fit_02323, measured(obs_lo_02323, wn_fine, obs_hi_02323)),
    (fit_02450, measured(obs_lo_02450, wn_coarse, obs_hi_02450, obs_extra_02450)),
    (fit_02541, measured(obs_lo_02541, wn_coarse, obs_hi_02541, obs_extra_02541)),
    (fit_02733, measured(obs_lo_02733, wn_fine, obs_hi_02733)),
    (fit_02824, measured(obs_lo_02824, wn_fine, obs_hi_02824)),
    (fit_02856, measured(obs_lo_02856, wn_coarse, obs_hi_02856, obs_extra_02856)),
]

fig = plt.figure(figsize=(18.64, 10.86), dpi=100)
ax = fig.add_axes([0.0425, 0.0613, 0.9471, 0.9317])

handles = []
for i, (fit, (ox, oy)) in enumerate(spectra):
    ax.plot(ox, oy, color="black", lw=1.6, zorder=2 + 2 * i)
    fx, fy = pairs(fit)
    label = (f"Orbit = {orbits[i]}, record = {records[i]}, Ls = {ls_deg[i]:.3f}$^\\circ$, "
             f"Lat = {lat_deg[i]:7.3f}$^\\circ$, Lon = {lon_deg[i]:8.3f}$^\\circ$, LT = {local_time[i]:5.2f} h")
    h, = ax.plot(fx, fy, color=colors[i], lw=2.6, zorder=3 + 2 * i, label=label)
    handles.append(h)

for text, x, y, fc in notes:
    ax.text(x, y, text, ha="center", va="center", fontsize=18.5, zorder=30,
            bbox=dict(boxstyle="square,pad=0.33", fc=fc, ec="#555555", lw=1.0))

ax.set_xlim(600, 1300)
ax.set_ylim(140, 315)
ax.set_xticks(np.arange(600, 1301, 25))
ax.set_yticks(np.arange(140, 311, 10))
ax.grid(True, color="#e4e4e4", lw=0.9)
ax.set_axisbelow(True)
ax.tick_params(direction="in", length=12, width=0.8, top=True, right=True,
               labelsize=13, colors="#262626")
ax.tick_params(axis="x", pad=8)
ax.tick_params(axis="y", pad=5)
for sp in ax.spines.values():
    sp.set_color("#666666")
ax.set_xlabel("Wavenumber, cm$^{-1}$", fontsize=17, color="#262626", labelpad=9)
ax.set_ylabel("Brightness temperature, K", fontsize=16.5, color="#262626")

leg = ax.legend(handles=handles, loc="upper right", fontsize=14, borderaxespad=0,
                fancybox=False, framealpha=1, edgecolor="#555555", handlelength=2.6,
                handletextpad=0.25, labelspacing=0.45, borderpad=0.35)
leg.set_zorder(40)

fig.savefig("out.png", dpi=100)
